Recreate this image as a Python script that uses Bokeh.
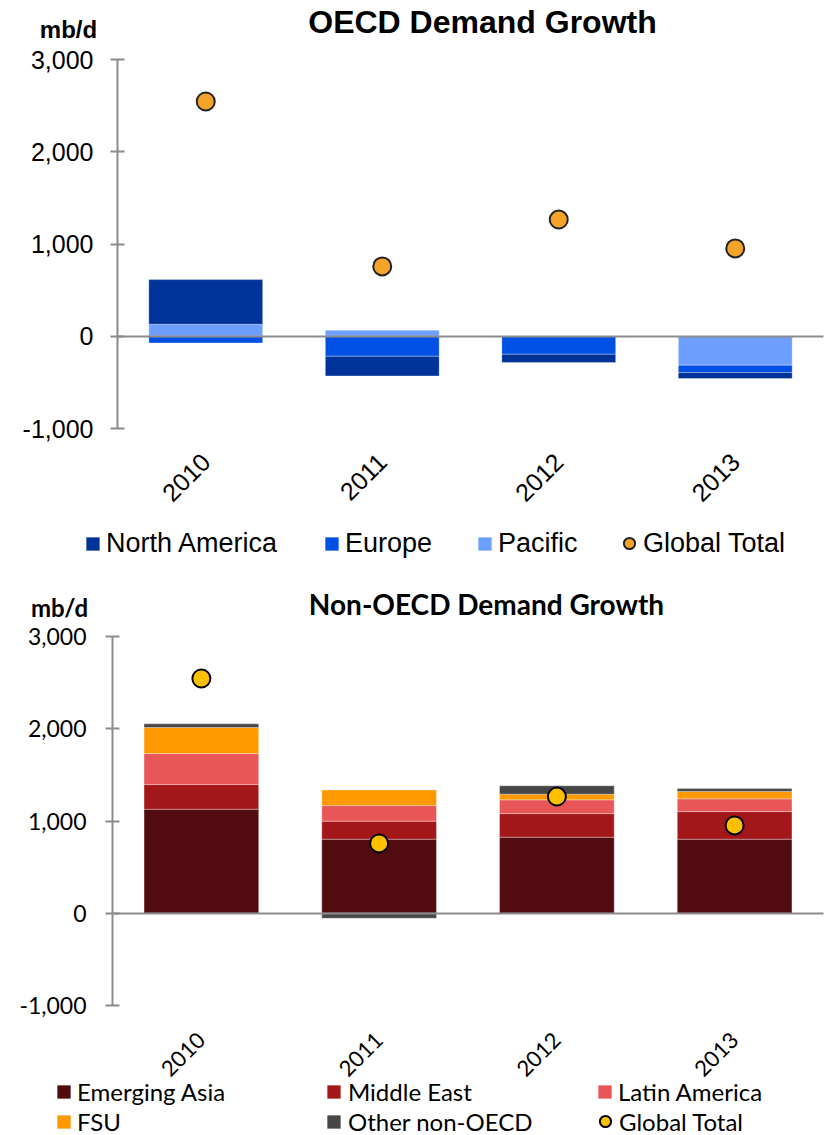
from bokeh.embed import file_html
from bokeh.layouts import column
from bokeh.models import (FixedTicker, Label, Legend, LegendItem, LinearAxis,
                          NumeralTickFormatter, Range1d)
from bokeh.plotting import figure
from bokeh.resources import INLINE

# ---- data (kb/d, year-on-year change) ----
years = ["2010", "2011", "2012", "2013"]
y_ticks = [-1000, 0, 1000, 2000, 3000]

# OECD regions
north_america = [484, -213, -90, -65]
europe = [-73, -217, -195, -79]
pacific = [130, 65, 0, -314]

# Non-OECD regions
emerging_asia = [1128, 803, 824, 803]
middle_east = [267, 195, 256, 299]
latin_america = [336, 169, 149, 138]
fsu = [282, 170, 62, 79]
other_non_oecd = [40, -54, 90, 32]

# world total, shown on both charts
global_total = [2545, 757, 1265, 952]

GRID = "#8c8c8c"
N = len(years)
xs = [i + 0.5 for i in range(N)]          # category centres
Y_LO, Y_HI = y_ticks[0], y_ticks[-1]


def stack(series_list):
    """Stack positive and negative parts separately, outward from zero."""
    pos = [0.0] * N
    neg = [0.0] * N
    out = []
    for s in series_list:
        bottoms, tops = [], []
        for i, v in enumerate(s):
            if v >= 0:
                bottoms.append(pos[i]); tops.append(pos[i] + v); pos[i] += v
            else:
                bottoms.append(neg[i]); tops.append(neg[i] + v); neg[i] += v
        out.append((bottoms, tops))
    return out


def make_fig(width, height, plot_left, plot_right, plot_top, plot_bottom,
             tick_font, tick_size, tick_standoff, year_font, year_size,
             year_standoff):
    # the frame fills the whole canvas; the ranges are chosen so that the
    # category band and the -1000..3000 band sit at the given pixel box
    sx = (plot_right - plot_left) / N
    sy = (plot_bottom - plot_top) / (Y_HI - Y_LO)
    x_range = Range1d(-plot_left / sx, N + (width - plot_right) / sx)
    y_range = Range1d(Y_LO - (height - plot_bottom) / sy, Y_HI + plot_top / sy)

    p = figure(x_range=x_range, y_range=y_range, width=width, height=height,
               min_border=0, min_border_left=0, min_border_right=0,
               min_border_top=0, min_border_bottom=0,
               output_backend="svg", toolbar_location=None, tools="")
    p.outline_line_color = None
    p.grid.visible = False

    ya = p.yaxis[0]
    ya.fixed_location = 0
    ya.bounds = (Y_LO, Y_HI)
    ya.ticker = FixedTicker(ticks=y_ticks)
    ya.formatter = NumeralTickFormatter(format="0,0")
    ya.axis_line_color = GRID
    ya.axis_line_width = 2
    ya.major_tick_line_color = GRID
    ya.major_tick_line_width = 2
    ya.major_tick_in = 7
    ya.major_tick_out = 7
    ya.minor_tick_line_color = None
    ya.major_label_text_font = tick_font
    ya.major_label_text_font_size = tick_size
    ya.major_label_text_color = "black"
    ya.major_label_standoff = tick_standoff

    xa = p.xaxis[0]
    xa.fixed_location = Y_LO
    xa.ticker = FixedTicker(ticks=xs)
    xa.major_label_overrides = {x: y for x, y in zip(xs, years)}
    xa.axis_line_color = None
    xa.major_tick_line_color = None
    xa.minor_tick_line_color = None
    xa.major_label_orientation = 0.785398
    xa.major_label_text_font = year_font
    xa.major_label_text_font_size = year_size
    xa.major_label_text_color = "black"
    xa.major_label_standoff = year_standoff

    # category axis crossing at zero
    zero_axis = LinearAxis(fixed_location=0, bounds=(0, N),
                           ticker=FixedTicker(ticks=[]),
                           axis_line_color=GRID, axis_line_width=2,
                           major_tick_line_color=None,
                           minor_tick_line_color=None)
    p.add_layout(zero_axis, "below")
    return p


def add_legend(p, items, x, y, font, size, glyph_w=17, glyph_h=17,
               standoff=5, row_h=30, spacing=0):
    lg = Legend(items=[LegendItem(label=lab, renderers=[r]) for lab, r in items],
                location=(x, y), orientation="vertical",
                glyph_width=glyph_w, glyph_height=glyph_h,
                label_standoff=standoff, label_height=row_h,
                label_text_font=font, label_text_font_size=size,
                label_text_color="black", label_text_baseline="middle",
                padding=0, margin=0, spacing=spacing,
                border_line_color=None, background_fill_alpha=0)
    p.add_layout(lg)


def draw_bars(p, series, colors):
    renderers = []
    for (b, t), c in zip(stack(series), colors):
        r = p.vbar(x=xs, bottom=b, top=t, width=0.645, fill_color=c,
                   line_color="white", line_alpha=0.3, line_width=1)
        renderers.append(r)
    return renderers


def add_text(p, text, x, y, font, size, bold=True):
    # x, y in canvas pixels measured from the top-left corner
    p.add_layout(Label(x=x, y=p.height - y, x_units="screen", y_units="screen",
                       text=text, text_align="center", text_baseline="middle",
                       text_font=font, text_font_style="bold" if bold else "normal",
                       text_font_size=size, text_color="black"))


# ================= OECD chart =================
ARIAL = "Liberation Sans"
W1, H1 = 831, 575
p1 = make_fig(W1, H1, 117, 823, 59, 428, ARIAL, "25px", 17, ARIAL, "25px", 23)

r_pac, r_eur, r_na = draw_bars(p1, [pacific, europe, north_america],
                               ["#6E9EFF", "#0050E6", "#003399"])
r_gt1 = p1.scatter(x=xs, y=global_total, size=18, fill_color="#F4A428",
                   line_color="#222222", line_width=2)

add_text(p1, "OECD Demand Growth", 482, 21, ARIAL, "32px")
add_text(p1, "mb/d", 68, 29, ARIAL, "24px")

# legend row centred 32 px above the bottom edge
add_legend(p1, [("North America", r_na)], 84, 16, ARIAL, "27px", row_h=32)
add_legend(p1, [("Europe", r_eur)], 323, 16, ARIAL, "27px", row_h=32)
add_legend(p1, [("Pacific", r_pac)], 476, 16, ARIAL, "27px", row_h=32)
add_legend(p1, [("Global Total", r_gt1)], 615, 15, ARIAL, "27px",
           glyph_w=28, glyph_h=34, standoff=0, row_h=34)

# ================= Non-OECD chart =================
LATO = "Lato"
W2, H2 = 831, 560
p2 = make_fig(W2, H2, 112, 823, 61, 430, LATO, "23px", 19, LATO, "22px", 25)

r_ea, r_me, r_la, r_fsu, r_oth = draw_bars(
    p2, [emerging_asia, middle_east, latin_america, fsu, other_non_oecd],
    ["#520C0F", "#A3171B", "#E85657", "#FF9900", "#474747"])
r_gt2 = p2.scatter(x=xs, y=global_total, size=18, fill_color="#FFC000",
                   line_color="black", line_width=2)

add_text(p2, "Non-OECD Demand Growth", 486, 28, LATO, "28px")
add_text(p2, "mb/d", 59, 32, LATO, "24px")

# two legend rows, 30 px apart, near the bottom edge
add_legend(p2, [("Emerging Asia", r_ea), ("FSU", r_fsu)], 55, -1, LATO,
           "24px", standoff=5)
add_legend(p2, [("Middle East", r_me), ("Other non-OECD", r_oth)], 325, -1,
           LATO, "24px", standoff=6)
add_legend(p2, [("Latin America", r_la)], 596, 29, LATO, "24px", standoff=5)
add_legend(p2, [("Global Total", r_gt2)], 591, -3, LATO, "24px",
           glyph_w=28, glyph_h=34, standoff=0, row_h=34)

layout = column(p1, p2, spacing=0)
open("out.html", "w").write(file_html(layout, INLINE))
